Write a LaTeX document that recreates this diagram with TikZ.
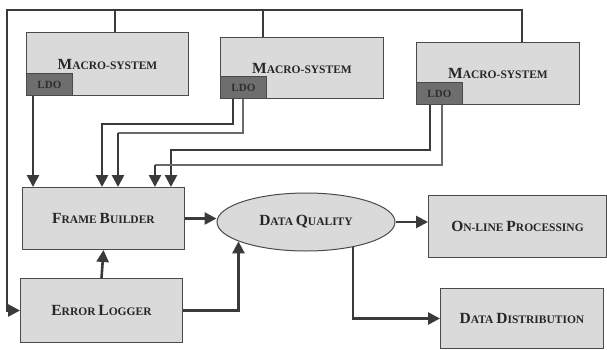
\documentclass[tikz,border=0pt]{standalone}
\usepackage{fontspec}
\setmainfont{Liberation Serif}
\usetikzlibrary{shapes.geometric,arrows.meta,calc}
\newcommand\bc[1]{{\fontsize{15.5}{16}\selectfont #1}}
\definecolor{boxfill}{HTML}{DADADA}
\definecolor{boxline}{HTML}{4A4A4A}
\definecolor{ldofill}{HTML}{6E6E6E}
\definecolor{ldotext}{HTML}{2E2E2E}
\definecolor{lineclr}{HTML}{3A3A3A}
\definecolor{lightclr}{HTML}{6A6A6A}
\begin{document}
\begin{tikzpicture}[x=1pt,y=-1pt,
  box/.style={draw=boxline, fill=boxfill, line width=1pt, inner sep=0pt,
    anchor=north west, text=black!85,
    font=\bfseries\fontsize{11.5}{12}\selectfont},
  ldobox/.style={draw=boxline, fill=ldofill, line width=0.8pt, inner sep=0pt,
    minimum width=46pt, minimum height=22pt, anchor=south west, text=ldotext,
    font=\bfseries\fontsize{11}{11}\selectfont},
  conn/.style={draw=lineclr, line width=2.6pt},
  lconn/.style={draw=lightclr, line width=1.7pt},
  tip/.style={-{Triangle[width=12pt,length=12pt]}}
]
\useasboundingbox (0,0) rectangle (607,350);

% macro-systems
\node[box, minimum width=162pt, minimum height=63pt] (ms1) at (26,32) {\bc{M}ACRO-SYSTEM};
\node[box, minimum width=163pt, minimum height=61pt] (ms2) at (220,37) {\bc{M}ACRO-SYSTEM};
\node[box, minimum width=163pt, minimum height=62pt] (ms3) at (416,42) {\bc{M}ACRO-SYSTEM};
\node[ldobox] (ldo1) at (ms1.south west) {LDO};
\node[ldobox] (ldo2) at (ms2.south west) {LDO};
\node[ldobox] (ldo3) at (ms3.south west) {LDO};

% processing chain
\node[box, minimum width=162pt, minimum height=62pt] (fb) at (22,187) {\bc{F}RAME \bc{B}UILDER};
\node[box, minimum width=162pt, minimum height=64pt] (el) at (20,278) {\bc{E}RROR \bc{L}OGGER};
\node[draw=boxline, fill=boxfill, line width=1pt, ellipse, inner sep=0pt,
  minimum width=178pt, minimum height=58pt, text=black!85,
  font=\bfseries\fontsize{11.5}{12}\selectfont] (dq) at (306,222) {\bc{D}ATA \bc{Q}UALITY};
\node[box, minimum width=178pt, minimum height=62pt] (olp) at (428,195) {\bc{O}N-LINE \bc{P}ROCESSING};
\node[box, minimum width=163pt, minimum height=60pt] (dd) at (440,288) {\bc{D}ATA \bc{D}ISTRIBUTION};

% top bus
\coordinate (tl) at (7,10);
\coordinate (d1) at ($(ms1.north west)+(89,0)$);
\coordinate (d2) at ($(ms2.north west)+(43,0)$);
\coordinate (d3) at ($(ms3.north west)+(106,0)$);
\draw[conn, tip] (d3) |- (tl) |- (el.west);
\draw[conn] (d1) -- (d1 |- tl);
\draw[conn] (d2) -- (d2 |- tl);

% LDO links to frame builder
\coordinate (s1) at ($(ldo1.south west)+(7,0)$);
\draw[conn, tip] (s1) -- (s1 |- fb.north);

\coordinate (s2a) at ($(ldo2.south west)+(13,0)$);
\coordinate (h2a) at (102,124);
\draw[conn, tip] (s2a) |- (h2a) -- (h2a |- fb.north);
\coordinate (s2b) at ($(ldo2.south west)+(23,0)$);
\coordinate (h2b) at (118,133);
\draw[lconn] (s2b) |- (h2b);
\draw[conn, tip] (h2b) -- (h2b |- fb.north);

\coordinate (s3a) at ($(ldo3.south west)+(14,0)$);
\coordinate (h3a) at (171,150);
\draw[conn, tip] (s3a) |- (h3a) -- (h3a |- fb.north);
\coordinate (s3b) at ($(ldo3.south west)+(26,0)$);
\coordinate (h3b) at (155,165);
\draw[lconn] (s3b) |- (h3b);
\draw[conn, tip] (h3b) -- (h3b |- fb.north);

% chain arrows
\draw[conn, tip] (fb.east) -- (fb.east -| dq.west);
\draw[conn, tip] (el.north) -- (fb.south);
\draw[conn, tip] (el.east) -| (dq.196);
\draw[conn, tip] (dq.east) -- (dq.east -| olp.west);
\draw[conn, tip] (dq.332) |- (dd.west);
\end{tikzpicture}
\end{document}
